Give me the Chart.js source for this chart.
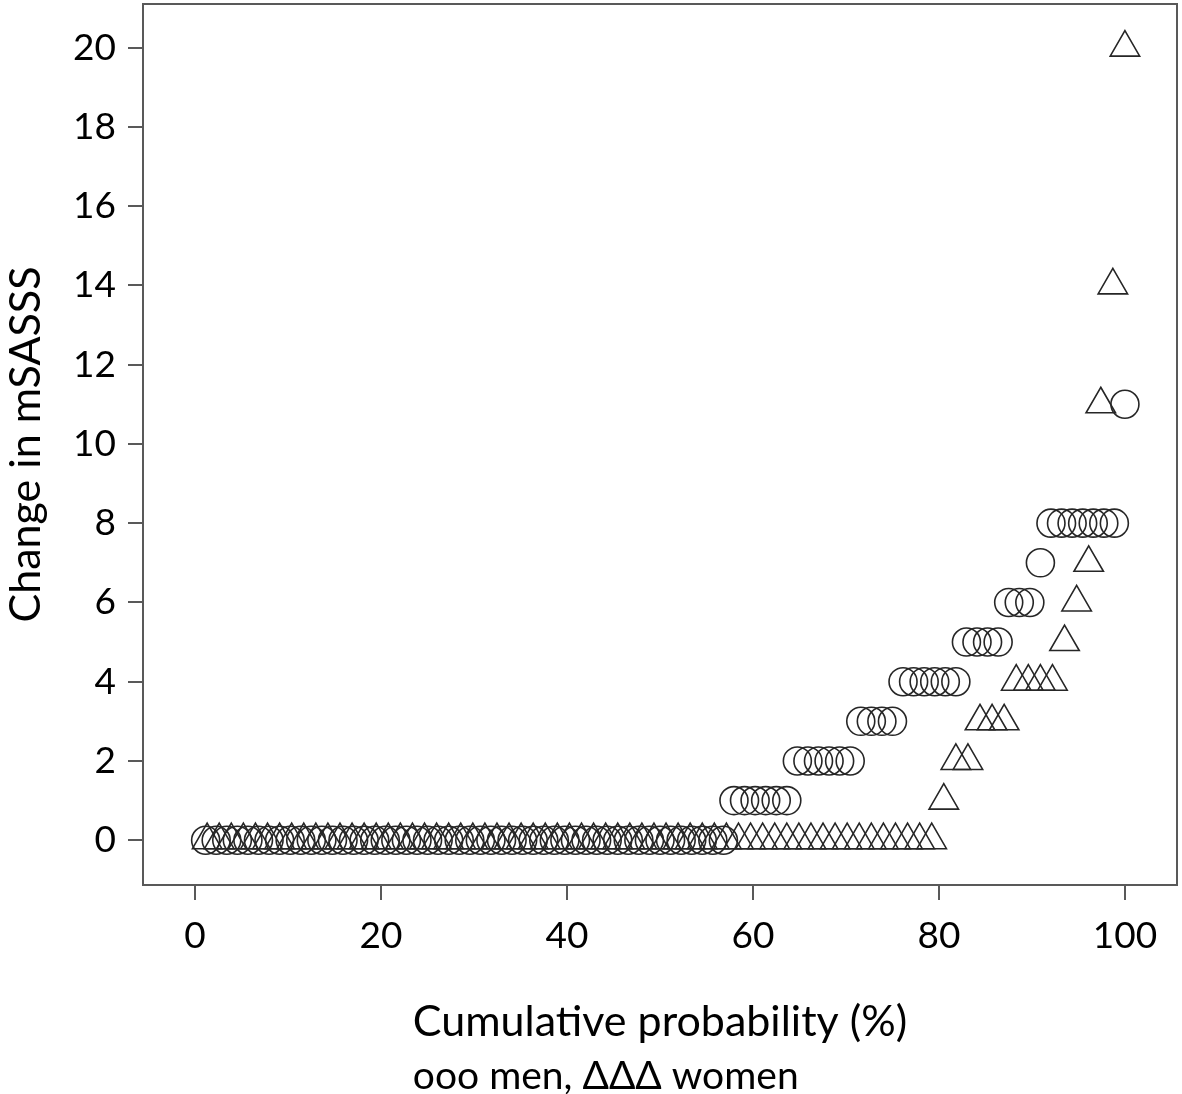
<!DOCTYPE html>
<html>
<head>
<meta charset="utf-8">
<script src="https://cdn.jsdelivr.net/npm/chart.js@4.4.1/dist/chart.umd.min.js"></script>
<style>
body { margin: 0; background: #fff; }
canvas { display: block; }
</style>
</head>
<body>
<canvas id="chart" width="1182" height="1094"></canvas>
<script>
// change in mSASSS per patient, sorted low to high
var menChange = [
	0, 0, 0, 0, 0, 0, 0, 0, 0, 0, 0, 0, 0, 0, 0, 0, 0, 0, 0, 0, 0, 0, 0, 0, 0,
	0, 0, 0, 0, 0, 0, 0, 0, 0, 0, 0, 0, 0, 0, 0, 0, 0, 0, 0, 0, 0, 0, 0, 0, 0,
	1, 1, 1, 1, 1, 1,
	2, 2, 2, 2, 2, 2,
	3, 3, 3, 3,
	4, 4, 4, 4, 4, 4,
	5, 5, 5, 5,
	6, 6, 6,
	7,
	8, 8, 8, 8, 8, 8, 8,
	11
];
var womenChange = [
	0, 0, 0, 0, 0, 0, 0, 0, 0, 0, 0, 0, 0, 0, 0, 0, 0, 0, 0, 0, 0, 0, 0, 0, 0,
	0, 0, 0, 0, 0, 0, 0, 0, 0, 0, 0, 0, 0, 0, 0, 0, 0, 0, 0, 0, 0, 0, 0, 0, 0,
	0, 0, 0, 0, 0, 0, 0, 0, 0, 0, 0,
	1,
	2, 2,
	3, 3, 3,
	4, 4, 4, 4,
	5, 6, 7, 11, 14, 20
];
var xTicks = [0, 20, 40, 60, 80, 100];
var yTicks = [0, 2, 4, 6, 8, 10, 12, 14, 16, 18, 20];
var xTitle = 'Cumulative probability (%)';
var yTitle = 'Change in mSASSS';
var caption = 'ooo men, \u0394\u0394\u0394 women';

var ink = '#262626';
var frame = '#595959';
var fontFamily = 'Lato, "Open Sans", sans-serif';

// cumulative probability = rank / n
function cumulative(values) {
	return values.map(function (v, i) {
		return { x: (i + 1) / values.length * 100, y: v };
	});
}

var framePlugin = {
	id: 'frame',
	beforeDatasetsDraw: function (chart) {
		var a = chart.chartArea;
		var ctx = chart.ctx;
		ctx.save();
		ctx.strokeStyle = frame;
		ctx.lineWidth = 2;
		ctx.strokeRect(a.left, a.top, a.right - a.left, a.bottom - a.top);
		ctx.restore();
	}
};

// second line under the x title, left aligned with it
var captionPlugin = {
	id: 'caption',
	afterDraw: function (chart) {
		var ctx = chart.ctx;
		var a = chart.chartArea;
		ctx.save();
		ctx.font = '43px ' + fontFamily;
		var w = ctx.measureText(xTitle).width;
		ctx.font = '39px ' + fontFamily;
		ctx.fillStyle = '#000';
		ctx.textAlign = 'left';
		ctx.textBaseline = 'middle';
		ctx.fillText(caption, (a.left + a.right) / 2 - w / 2, 1076);
		ctx.restore();
	}
};

function pickTicks(list) {
	return function (scale) {
		scale.ticks = list.map(function (v) { return { value: v }; });
	};
}

new Chart(document.getElementById('chart'), {
	type: 'scatter',
	data: {
		datasets: [
			{
				label: 'men',
				data: cumulative(menChange),
				pointStyle: 'circle',
				pointRadius: 14,
				backgroundColor: 'rgba(0,0,0,0)',
				borderColor: ink,
				borderWidth: 1.6
			},
			{
				label: 'women',
				data: cumulative(womenChange),
				pointStyle: 'triangle',
				pointRadius: 17,
				backgroundColor: 'rgba(0,0,0,0)',
				borderColor: ink,
				borderWidth: 1.6
			}
		]
	},
	options: {
		responsive: false,
		animation: false,
		layout: { autoPadding: false, padding: { left: 0, right: 5, top: 4, bottom: 0 } },
		plugins: {
			legend: { display: false },
			tooltip: { enabled: false }
		},
		scales: {
			x: {
				type: 'linear',
				min: -5.6,
				max: 105.6,
				afterBuildTicks: pickTicks(xTicks),
				afterFit: function (scale) {
					scale.height = 209;
					scale.paddingLeft = 0;
					scale.paddingRight = 0;
				},
				border: { display: false },
				grid: { drawOnChartArea: false, drawTicks: true, tickLength: 15, color: frame, lineWidth: 2 },
				ticks: { color: '#000', padding: 14, font: { family: fontFamily, size: 37 }, maxRotation: 0 },
				title: {
					display: true,
					text: xTitle,
					color: '#000',
					font: { family: fontFamily, size: 43 },
					padding: { top: 0, bottom: 46 }
				}
			},
			y: {
				type: 'linear',
				min: -1.13,
				max: 21.1,
				afterBuildTicks: pickTicks(yTicks),
				afterFit: function (scale) {
					scale.width = 143;
					scale.paddingTop = 0;
					scale.paddingBottom = 0;
				},
				border: { display: false },
				grid: { drawOnChartArea: false, drawTicks: true, tickLength: 15, color: frame, lineWidth: 2 },
				ticks: { color: '#000', padding: 12, font: { family: fontFamily, size: 37 } },
				title: {
					display: true,
					text: yTitle,
					color: '#000',
					font: { family: fontFamily, size: 43 },
					padding: 0
				}
			}
		}
	},
	plugins: [framePlugin, captionPlugin]
});
</script>
</body>
</html>
